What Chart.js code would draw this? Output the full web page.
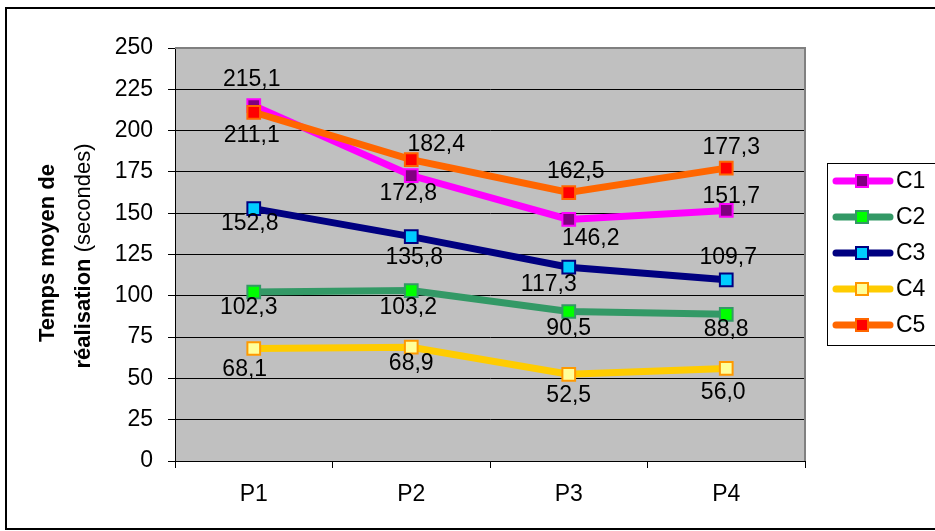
<!DOCTYPE html>
<html>
<head>
<meta charset="utf-8">
<style>
  body { margin: 0; background: #fff; }
  #wrap { width: 935px; height: 531px; }
</style>
<script src="https://cdn.jsdelivr.net/npm/chart.js@4.4.0/dist/chart.umd.min.js"></script>
</head>
<body>
<div id="wrap"><canvas id="timeChart" width="935" height="531"></canvas></div>
<script>
// data
const periods = ['P1', 'P2', 'P3', 'P4'];
const seriesNames = ['C1', 'C2', 'C3', 'C4', 'C5'];
const c1 = [215.1, 172.8, 146.2, 151.7];
const c2 = [102.3, 103.2, 90.5, 88.8];
const c3 = [152.8, 135.8, 117.3, 109.7];
const c4 = [68.1, 68.9, 52.5, 56.0];
const c5 = [211.1, 182.4, 162.5, 177.3];
const yTicks = [0, 25, 50, 75, 100, 125, 150, 175, 200, 225, 250];

// styles (Excel default palette)
const lineColors = ['#FF00FF', '#339966', '#000080', '#FFCC00', '#FF6600'];
const markerFills = ['#800080', '#00FF00', '#00CCFF', '#FFFF99', '#FF0000'];
const markerBorders = ['#FF00FF', '#339966', '#000080', '#FF9900', '#FF6600'];
// label offsets from each point, in px [dx, dy]
const labelOffsets = [
  [[-2, -26], [-3, 18], [22, 19], [5, -14]],
  [[-5, 16], [-3, 17], [0, 17], [0, 15]],
  [[-4, 15], [3, 21], [-20, 17], [2, -22]],
  [[-9, 21], [0, 16], [0, 21], [-3, 24]],
  [[-2, 23], [25, -15], [7, -21], [5, -20]]
];

const FONT = '"Liberation Sans", Arial, sans-serif';
const FSIZE = 23;
const allSeries = [c1, c2, c3, c4, c5];

const datasets = allSeries.map((vals, i) => ({
  label: seriesNames[i],
  data: vals,
  borderColor: lineColors[i],
  borderWidth: 7,
  backgroundColor: markerFills[i],
  pointStyle: 'rect',
  pointRadius: 9,
  pointBorderWidth: 2,
  pointBackgroundColor: markerFills[i],
  pointBorderColor: markerBorders[i],
  tension: 0,
  order: allSeries.length - i
}));

// gray plot area, frame and the gray top/right edge
const plotBackground = {
  id: 'plotBackground',
  beforeDraw(chart) {
    const { ctx, chartArea: a } = chart;
    ctx.save();
    ctx.strokeStyle = '#000';
    ctx.lineWidth = 2;
    ctx.strokeRect(6, 8, 940, 521);
    ctx.fillStyle = '#C0C0C0';
    ctx.fillRect(a.left, a.top, a.right - a.left, a.bottom - a.top);
    ctx.restore();
  },
  beforeDatasetsDraw(chart) {
    const { ctx, chartArea: a } = chart;
    ctx.save();
    ctx.strokeStyle = '#808080';
    ctx.lineWidth = 2;
    ctx.beginPath();
    ctx.moveTo(a.left, a.top);
    ctx.lineTo(a.right, a.top);
    ctx.lineTo(a.right, a.bottom);
    ctx.stroke();
    ctx.restore();
  }
};

// value labels with comma decimals
const valueLabels = {
  id: 'valueLabels',
  afterDatasetsDraw(chart) {
    const ctx = chart.ctx;
    ctx.save();
    ctx.font = FSIZE + 'px ' + FONT;
    ctx.fillStyle = '#000';
    ctx.textAlign = 'center';
    ctx.textBaseline = 'middle';
    chart.data.datasets.forEach((ds, i) => {
      const meta = chart.getDatasetMeta(i);
      meta.data.forEach((pt, j) => {
        const off = labelOffsets[i][j];
        const txt = ds.data[j].toFixed(1).replace('.', ',');
        ctx.fillText(txt, pt.x + off[0], pt.y + off[1]);
      });
    });
    ctx.restore();
  }
};

// y title with bold / normal mix, and the boxed legend on the right
const extras = {
  id: 'extras',
  afterDraw(chart) {
    const ctx = chart.ctx;
    ctx.save();
    ctx.fillStyle = '#000';
    ctx.textBaseline = 'middle';

    // axis title
    ctx.save();
    ctx.translate(48, 253);
    ctx.rotate(-Math.PI / 2);
    ctx.font = 'bold 22px ' + FONT;
    ctx.textAlign = 'center';
    ctx.fillText('Temps moyen de', 0, 0);
    ctx.restore();

    ctx.save();
    ctx.translate(84, 256);
    ctx.rotate(-Math.PI / 2);
    const boldPart = 'réalisation';
    const normPart = ' (secondes)';
    ctx.font = 'bold 22px ' + FONT;
    const w1 = ctx.measureText(boldPart).width;
    ctx.font = '22px ' + FONT;
    const w2 = ctx.measureText(normPart).width;
    const start = -(w1 + w2) / 2;
    ctx.textAlign = 'left';
    ctx.font = 'bold 22px ' + FONT;
    ctx.fillText(boldPart, start, 0);
    ctx.font = '22px ' + FONT;
    ctx.fillText(normPart, start + w1, 0);
    ctx.restore();

    // legend
    ctx.strokeStyle = '#000';
    ctx.lineWidth = 1;
    ctx.strokeRect(827.5, 163.5, 120, 182);
    chart.data.datasets.forEach((ds, i) => {
      const y = 181 + i * 36;
      ctx.strokeStyle = ds.borderColor;
      ctx.lineWidth = 7;
      ctx.lineCap = 'round';
      ctx.beginPath();
      ctx.moveTo(836, y);
      ctx.lineTo(890, y);
      ctx.stroke();
      ctx.lineCap = 'butt';
      ctx.fillStyle = ds.pointBackgroundColor;
      ctx.fillRect(856, y - 6, 12, 12);
      ctx.strokeStyle = ds.pointBorderColor;
      ctx.lineWidth = 2;
      ctx.strokeRect(856, y - 6, 12, 12);
      ctx.fillStyle = '#000';
      ctx.font = FSIZE + 'px ' + FONT;
      ctx.textAlign = 'left';
      ctx.fillText(ds.label, 896, y + 1);
    });
    ctx.restore();
  }
};

const ctx = document.getElementById('timeChart').getContext('2d');
new Chart(ctx, {
  type: 'line',
  data: { labels: periods, datasets: datasets },
  options: {
    responsive: false,
    animation: false,
    layout: { padding: { top: 48, right: 130, left: 0, bottom: 0 } },
    plugins: {
      legend: { display: false },
      tooltip: { enabled: false },
      title: { display: false }
    },
    scales: {
      x: {
        offset: true,
        grid: {
          offset: true,
          drawOnChartArea: false,
          drawTicks: true,
          tickLength: 7,
          color: '#000'
        },
        border: { color: '#000', width: 1 },
        ticks: {
          color: '#000',
          font: { family: FONT, size: FSIZE },
          padding: 13,
          maxRotation: 0
        },
        afterFit(scale) { scale.height = 70; }
      },
      y: {
        min: 0,
        max: 250,
        afterBuildTicks(scale) { scale.ticks = yTicks.map(v => ({ value: v })); },
        grid: { color: '#000', lineWidth: 1, tickLength: 7 },
        border: { color: '#000', width: 1 },
        ticks: {
          color: '#000',
          font: { family: FONT, size: FSIZE },
          padding: 15
        },
        afterFit(scale) { scale.width = 175; }
      }
    }
  },
  plugins: [plotBackground, valueLabels, extras]
});
</script>
</body>
</html>
